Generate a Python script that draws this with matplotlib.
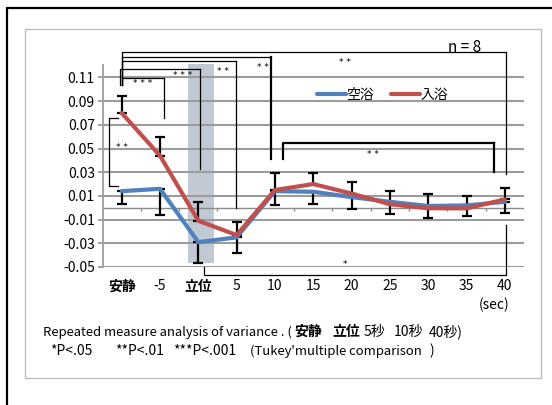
import numpy as np
import matplotlib.pyplot as plt
from matplotlib.patches import Rectangle

LATIN = 'Liberation Sans Narrow'
CJK = 'Noto Sans CJK JP'
plt.rcParams['font.family'] = [LATIN, CJK, 'DejaVu Sans']

categories = ['安静', '-5', '立位', '5', '10', '15', '20', '25', '30', '35', '40']
bold_cats = ['安静', '立位']

kuyoku = [0.014, 0.016, -0.029, -0.025, 0.014, 0.0135, 0.009, 0.005, 0.0015, 0.002, 0.005]
nyuyoku = [0.080, 0.044, -0.011, -0.023, 0.015, 0.020, 0.012, 0.003, -0.0004, -0.0005, 0.007]
# error bars: red drawn upward, blue drawn downward
nyuyoku_sd = [0.014, 0.016, 0.016, 0.011, 0.014, 0.009, 0.010, 0.011, 0.012, 0.0105, 0.010]
kuyoku_sd = [0.011, 0.022, 0.018, 0.013, 0.012, 0.010, 0.010, 0.010, 0.0105, 0.009, 0.009]

yticks = [-0.05, -0.03, -0.01, 0.01, 0.03, 0.05, 0.07, 0.09, 0.11]

# significance brackets:
# (left x, right x, level, left drop, right drop, label, label x, label y, lw, right lw)
brackets = [
    (0, 10.04, 0.1311, 0.104, 0.0283, '* *', 5.83, 0.1225, 0.9, 0.9),
    (0, 3.89, 0.1274, 0.104, 0.041, '* *', 3.68, 0.1188, 0.9, 1.6),
    (0, 2.98, 0.1240, 0.104, 0.0, '* *', 2.65, 0.1150, 0.9, 0.9),
    (-0.04, 2.04, 0.1170, 0.104, 0.0324, '* * *', 1.59, 0.1118, 0.9, 0.9),
    (0, 1.10, 0.1097, 0.104, 0.076, '* * *', 0.54, 0.1052, 0.9, 0.9),
    (4.22, 9.73, 0.0543, 0.041, 0.0298, '* *', 6.57, 0.0448, 1.6, 1.6),
]

blue = '#4F81BD'
red = '#C0504D'
grid_c = '#9c9c9c'

fig = plt.figure(figsize=(5.52, 4.05), dpi=100)
W, H = 552, 405


def fx(px):
    return px / W


def fy(py):
    return 1 - py / H


# outer frame and inner box
fig.add_artist(Rectangle((fx(7), fy(420)), fx(560) - fx(7), fy(8) - fy(420),
                         transform=fig.transFigure, fill=False, ec='black', lw=1.6))
fig.add_artist(Rectangle((fx(25), fy(378)), fx(541) - fx(25), fy(29) - fy(378),
                         transform=fig.transFigure, fill=False, ec='#bdbdbd', lw=1.0))

ax = fig.add_axes([fx(102.5), fy(267), fx(524) - fx(102.5), fy(65) - fy(267)])
ax.set_facecolor('none')
x = np.arange(len(categories))
ax.set_xlim(-0.5, len(categories) - 0.5)
ax.set_ylim(-0.05, 0.1205)

for s in ['top', 'right', 'bottom']:
    ax.spines[s].set_visible(False)
ax.spines['left'].set_color(grid_c)
ax.spines['left'].set_linewidth(1.3)

ax.set_yticks(yticks)
ax.set_yticklabels([f'{v:.2f}' for v in yticks])
ax.tick_params(axis='y', length=3.5, width=1.3, color=grid_c, labelsize=10, pad=2)
for v in yticks:
    ax.axhline(v, color=grid_c, lw=1.5, zorder=1)

ax.set_xticks(x)
ax.set_xticklabels(categories)
ax.tick_params(axis='x', length=0, labelsize=10, pad=9)
for lab in ax.get_xticklabels():
    if lab.get_text() in bold_cats:
        lab.set_fontweight('bold')

# zero line with category boundary ticks
ax.axhline(0, color='#8a8a8a', lw=1.0, zorder=1)
ax.vlines(np.arange(len(categories)) + 0.5, -0.0028, 0, color='#8a8a8a', lw=1.0, zorder=1)

# shaded band around 立位
ax.add_patch(Rectangle((1.72, -0.0466), 0.69, 0.1212 + 0.0466, color='#c1c9d5',
                       zorder=0.5, lw=0, clip_on=False))

ax.errorbar(x, nyuyoku, yerr=[np.zeros(len(x)), nyuyoku_sd], fmt='none',
            ecolor='black', elinewidth=1.6, capsize=3.5, capthick=1.6, zorder=2)
ax.errorbar(x, kuyoku, yerr=[kuyoku_sd, np.zeros(len(x))], fmt='none',
            ecolor='black', elinewidth=1.6, capsize=3.5, capthick=1.6, zorder=2)
ax.plot(x, kuyoku, color=blue, lw=3, solid_capstyle='round', zorder=3, label='空浴')
ax.plot(x, nyuyoku, color=red, lw=3, solid_capstyle='round', zorder=3, label='入浴')

leg = ax.legend(loc='upper left', frameon=False, ncol=2, fontsize=10,
                handlelength=2.1, handletextpad=0.05, columnspacing=1.2, borderaxespad=0)
leg.set_bbox_to_anchor((fx(311), fy(82)), transform=fig.transFigure)
for t in leg.get_texts():
    t.set_family([CJK])

# brackets
for x0, x1, lvl, d0, d1, lab, lx, ly, lw, rlw in brackets:
    ax.plot([x0, x0, x1], [d0, lvl, lvl], color='black', lw=lw, clip_on=False, zorder=4)
    ax.plot([x1, x1], [lvl, d1], color='black', lw=rlw, clip_on=False, zorder=4)
    ax.text(lx, ly, lab, fontsize=6.5, ha='center', va='center', family='DejaVu Sans',
            zorder=4)

# 安静 red vs blue
ax.plot([-0.09, -0.33, -0.33, -0.09], [0.0754, 0.0754, 0.0183, 0.0183], color='black',
        lw=0.9, zorder=4)
ax.text(0.02, 0.0506, '* *', fontsize=6.5, ha='center', va='center', family='DejaVu Sans')

# 立位 vs 40 (below axis)
ax.plot([2.16, 2.16, 10.04, 10.04], [-0.05, -0.0566, -0.0566, -0.0147], color='black',
        lw=0.9, clip_on=False, zorder=4)
ax.text(5.83, -0.0478, '*', fontsize=6.5, ha='center', va='center', family='DejaVu Sans')

ax.text(8.94, 0.1355, 'n = 8', fontsize=11, ha='center', va='center')

fig.text(fx(494), fy(305), '(sec)', fontsize=10, ha='center', va='center')

fs = 10
y1, y2 = fy(332), fy(351)
fig.text(fx(43), y1, 'Repeated measure analysis of variance . (', fontsize=9.4, va='center')
fig.text(fx(294), y1, '安静', fontsize=fs, va='center', fontweight='bold', family=[CJK])
fig.text(fx(332), y1, '立位', fontsize=fs, va='center', fontweight='bold', family=[CJK])
fig.text(fx(364), y1, '5秒', fontsize=fs, va='center')
fig.text(fx(394), y1, '10秒', fontsize=fs, va='center')
fig.text(fx(429), y1, '40秒)', fontsize=fs, va='center')
fig.text(fx(50), y2, '*P<.05', fontsize=fs, va='center')
fig.text(fx(115), y2, '**P<.01', fontsize=fs, va='center')
fig.text(fx(173), y2, '***P<.001', fontsize=fs, va='center')
fig.text(fx(250), y2, "(Tukey'multiple comparison", fontsize=9.4, va='center')
fig.text(fx(429), y2, ')', fontsize=fs, va='center')

fig.savefig('out.png', dpi=100)
